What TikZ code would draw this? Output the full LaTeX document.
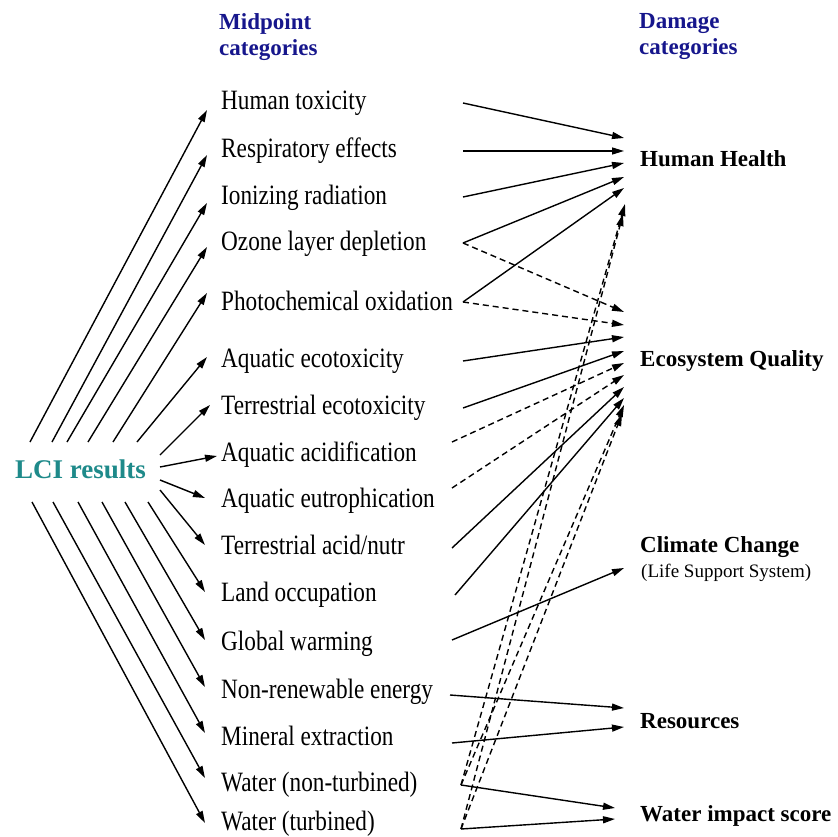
\documentclass[tikz,border=0pt]{standalone}
\usepackage{fontspec}
\setmainfont{Liberation Serif}
\newfontfamily\midfont[FakeStretch=0.83]{Liberation Serif}
\usetikzlibrary{arrows.meta}
\definecolor{hdrblue}{RGB}{22,22,140}
\definecolor{lciteal}{RGB}{30,138,138}
\begin{document}
\begin{tikzpicture}[x=1pt,y=-1pt,
  mid/.style={anchor=base west,inner sep=0,font=\midfont\fontsize{28}{30}\selectfont},
  dmg/.style={anchor=base west,inner sep=0,font=\bfseries\fontsize{23}{26}\selectfont},
  hdr/.style={anchor=base west,inner sep=0,font=\bfseries\fontsize{23}{26}\selectfont,text=hdrblue},
  arr/.style={line width=1.4pt,-{Triangle[length=12pt,width=7pt]}},
  dsh/.style={arr,dash pattern=on 6pt off 4pt}]
\useasboundingbox (0,0) rectangle (838,837);
\fill[white] (0,0) rectangle (838,837);

% headers
\node[hdr] (mh1) at (219,30) {Midpoint};
\node[hdr] (mh2) at (219,56) {categories};
\node[hdr] (dh1) at (639,29) {Damage};
\node[hdr] (dh2) at (639,55) {categories};

% LCI
\node[anchor=base west,inner sep=0,font=\bfseries\fontsize{27}{30}\selectfont,text=lciteal] (lci) at (15,478) {LCI results};

% midpoint categories
\foreach \n/\t/\y in {
  ht/Human toxicity/110,
  re/Respiratory effects/158,
  ir/Ionizing radiation/205,
  oz/Ozone layer depletion/251,
  po/Photochemical oxidation/310,
  ae/Aquatic ecotoxicity/367,
  te/Terrestrial ecotoxicity/414,
  aa/Aquatic acidification/461,
  au/Aquatic eutrophication/507,
  tn/Terrestrial acid\slash nutr/554,
  lo/Land occupation/601,
  gw/Global warming/650,
  nr/Non-renewable energy/698,
  me/Mineral extraction/745,
  wn/Water (non-turbined)/791,
  wt/Water (turbined)/830}
  \node[mid] (\n) at (221,\y) {\t};

% damage categories
\node[dmg] (hh) at (640,167) {Human Health};
\node[dmg] (eq) at (640,366) {Ecosystem Quality};
\node[dmg] (cc) at (640,552) {Climate Change};
\node[anchor=base west,inner sep=0,font=\fontsize{19}{22}\selectfont] (lss) at (641,577) {(Life Support System)};
\node[dmg] (rs) at (640,728) {Resources};
\node[dmg] (wi) at (640,821) {Water impact score};

% LCI -> midpoint arrows
\foreach \n/\sx/\sy/\tx/\ty in {
  ht/30/442/207/110,
  re/52/442/207/155,
  ir/67/442/207/203,
  oz/88/442/207/247,
  po/113/442/207/293,
  ae/137/442/207/357,
  te/160/455/210/405,
  aa/160/467/217/456,
  au/160/480/205/498,
  tn/160/490/205/545,
  lo/148/502/205/592,
  gw/125/502/205/640,
  nr/102/502/205/687,
  me/78/502/205/733,
  wn/53/502/205/778,
  wt/32/502/205/823}
{
  \coordinate (ls-\n) at (\sx,\sy);
  \coordinate (lt-\n) at (\tx,\ty);
  \draw[arr] (ls-\n) -- (lt-\n);
}

% right side start points
\foreach \n/\sx/\sy in {
  ht/463/103, re/463/151, ir/463/197, oz/463/243, po/463/302,
  ae/463/361, te/463/408, aa/452/442, au/452/488, tn/452/548,
  lo/455/595, gw/452/640, nr/450/695, me/452/743, wn/461/785, wt/461/829}
  \coordinate (rs-\n) at (\sx,\sy);

% arrow tips at damage categories
\coordinate (hh1) at (624,138);
\coordinate (hh2) at (624,151);
\coordinate (hh3) at (624,163);
\coordinate (hh4) at (624,177);
\coordinate (hh5) at (624,188);
\coordinate (hh6) at (625,204);
\coordinate (hh7) at (623,214);
\coordinate (eq1) at (624,312);
\coordinate (eq2) at (624,325);
\coordinate (eq3) at (624,337);
\coordinate (eq4) at (624,351);
\coordinate (eq5) at (624,363);
\coordinate (eq6) at (624,375);
\coordinate (eq7) at (624,387);
\coordinate (eq8) at (624,398);
\coordinate (eq9) at (624,405);
\coordinate (eq10) at (622,414);
\coordinate (cc1) at (624,568);
\coordinate (rs1) at (624,708);
\coordinate (rs2) at (624,727);
\coordinate (wi1) at (615,808);
\coordinate (wi2) at (615,819);

% midpoint -> damage arrows
\draw[arr] (rs-ht) -- (hh1);
\draw[arr] (rs-re) -- (hh2);
\draw[arr] (rs-ir) -- (hh3);
\draw[arr] (rs-oz) -- (hh4);
\draw[arr] (rs-po) -- (hh5);
\draw[dsh] (rs-oz) -- (eq1);
\draw[dsh] (rs-po) -- (eq2);
\draw[arr] (rs-ae) -- (eq3);
\draw[arr] (rs-te) -- (eq4);
\draw[dsh] (rs-aa) -- (eq5);
\draw[dsh] (rs-au) -- (eq6);
\draw[arr] (rs-tn) -- (eq7);
\draw[arr] (rs-lo) -- (eq8);
\draw[arr] (rs-gw) -- (cc1);
\draw[arr] (rs-nr) -- (rs1);
\draw[arr] (rs-me) -- (rs2);
\draw[arr] (rs-wn) -- (wi1);
\draw[arr] (rs-wt) -- (wi2);
\draw[dsh] (rs-wn) -- (hh6);
\draw[dsh] (rs-wt) -- (hh7);
\draw[dsh] (rs-wn) -- (eq9);
\draw[dsh] (rs-wt) -- (eq10);
\end{tikzpicture}
\end{document}
